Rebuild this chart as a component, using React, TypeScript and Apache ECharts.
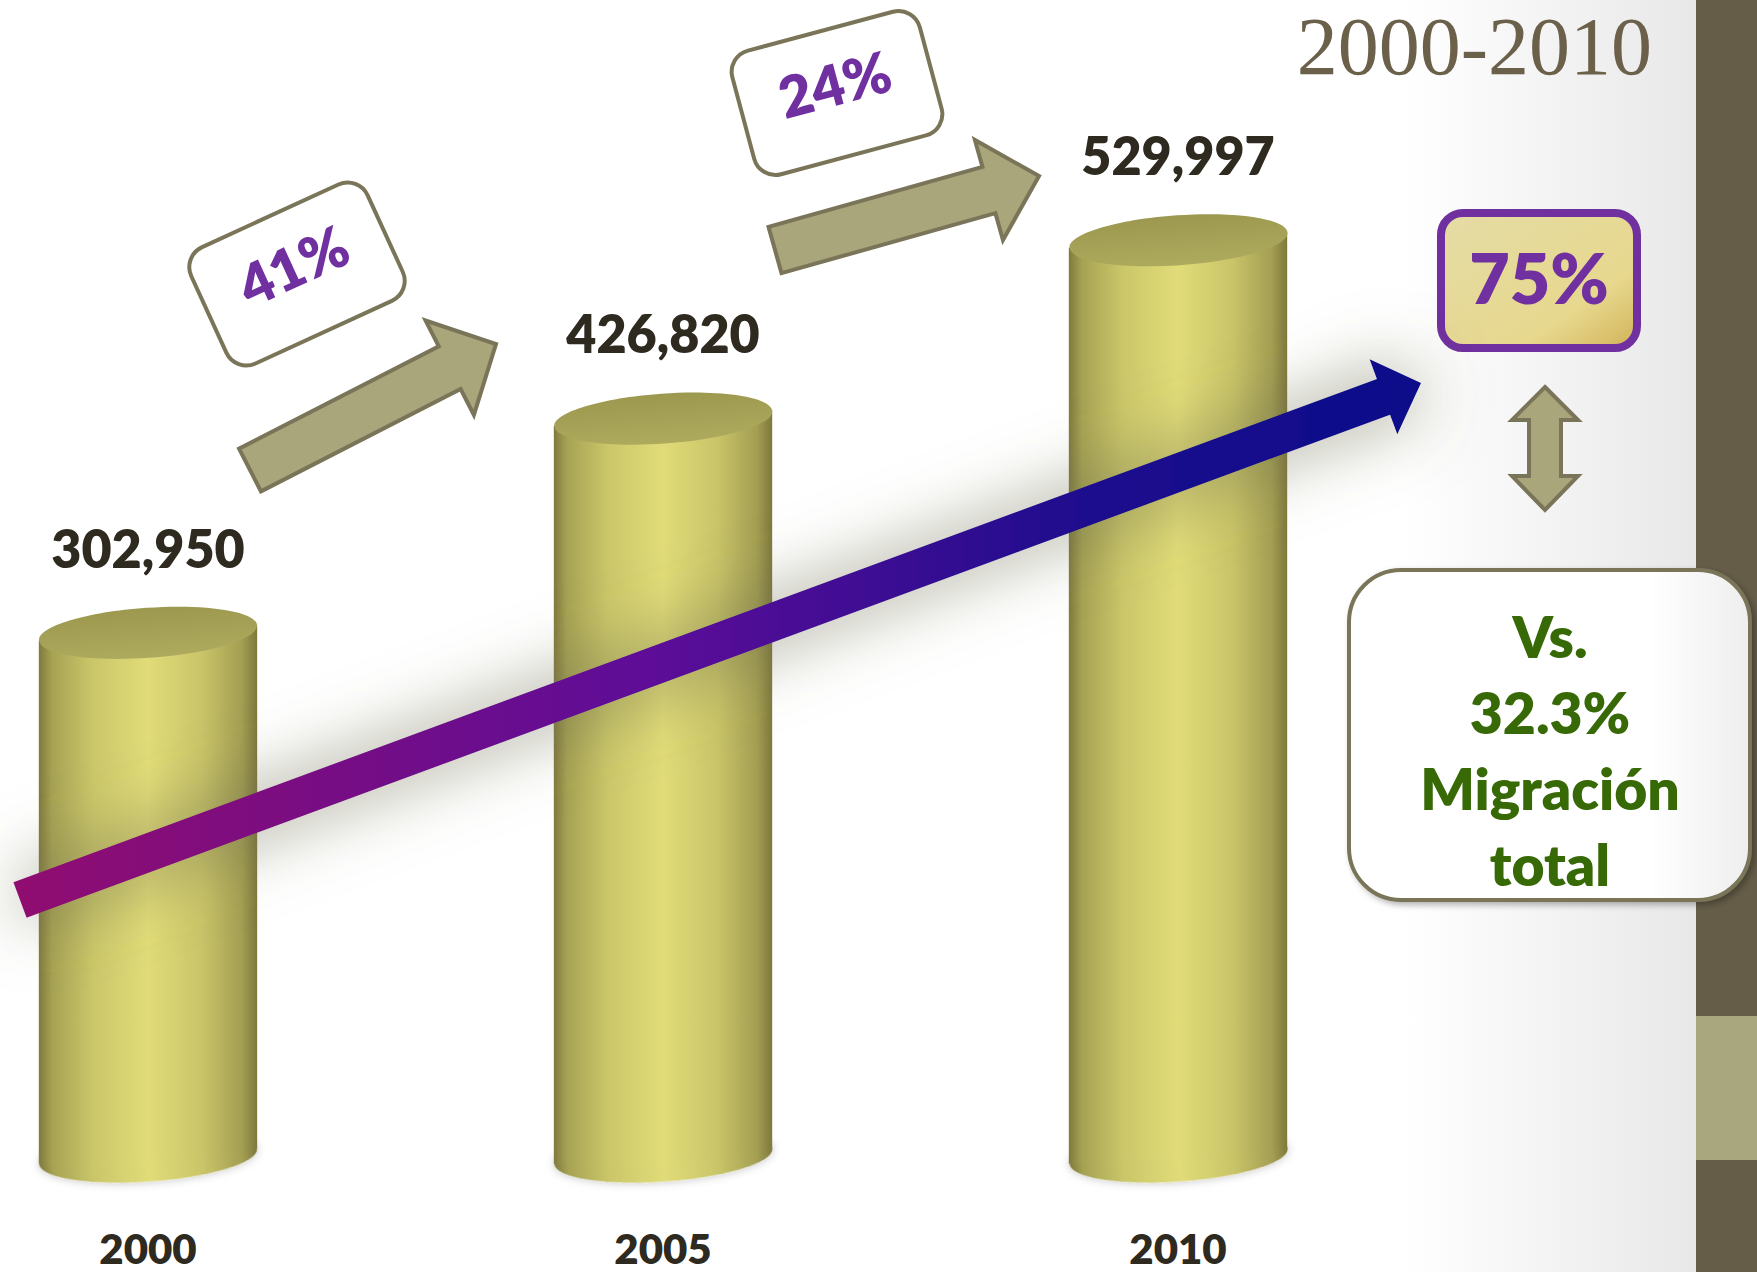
import React, { useEffect, useRef } from "react";
import * as echarts from "echarts";

const years = ["2000", "2005", "2010"];
const population = [302950, 426820, 529997];
const stepGrowth = ["41%", "24%"];
const totalGrowth = "75%";
const comparisonLines = ["Vs.", "32.3%", "Migración", "total"];
const title = "2000-2010";

type Pt = [number, number];

function blockArrow(tx: number, ty: number, hx: number, hy: number, shaftHalf: number, headHalf: number, headLen: number): Pt[] {
  const dx = hx - tx, dy = hy - ty;
  const L = Math.hypot(dx, dy);
  const ux = dx / L, uy = dy / L;
  const nx = -uy, ny = ux;
  const bx = hx - ux * headLen, by = hy - uy * headLen;
  return [
    [tx + nx * shaftHalf, ty + ny * shaftHalf],
    [bx + nx * shaftHalf, by + ny * shaftHalf],
    [bx + nx * headHalf, by + ny * headHalf],
    [hx, hy],
    [bx - nx * headHalf, by - ny * headHalf],
    [bx - nx * shaftHalf, by - ny * shaftHalf],
    [tx - nx * shaftHalf, ty - ny * shaftHalf],
  ];
}

const fmt = (v: number) => v.toLocaleString("en-US");

export default function App() {
  const ref = useRef<HTMLDivElement>(null);
  useEffect(() => {
    if (!ref.current) return;
    const chart = echarts.init(ref.current, undefined, { renderer: "svg" });
    const olive = "#a9a67c";
    const oliveStroke = "#7a7558";
    const purple = "#7030a0";
    const green = "#376a06";
    const dark = "#2e2a1f";
    const W = "800";

    const bodyGrad = () =>
      new echarts.graphic.LinearGradient(0, 0, 1, 0, [
        { offset: 0, color: "#7f7a3e" },
        { offset: 0.06, color: "#a6a253" },
        { offset: 0.25, color: "#cbc76a" },
        { offset: 0.5, color: "#e1dc78" },
        { offset: 0.75, color: "#c9c468" },
        { offset: 0.93, color: "#a39e52" },
        { offset: 1, color: "#7e783c" },
      ]);
    const topGrad = () =>
      new echarts.graphic.LinearGradient(0, 0, 0, 1, [
        { offset: 0, color: "#9c984f" },
        { offset: 1, color: "#aeaa5d" },
      ]);

    const tilt = 0.07;

    const stepBox = (cx: number, cy: number, rot: number, text: string) => ({
      type: "group",
      x: cx,
      y: cy,
      rotation: rot,
      z: 20,
      children: [
        {
          type: "rect",
          shape: { x: -97, y: -64, width: 194, height: 128, r: 22 },
          style: { fill: "#ffffff", stroke: oliveStroke, lineWidth: 4 },
        },
        {
          type: "text",
          x: 0,
          y: -10,
          style: {
            text,
            fill: purple,
            font: `${W} 57px Lato`,
            textAlign: "center",
            textVerticalAlign: "middle",
          },
        },
      ],
    });

    const option: any = {
      animation: false,
      grid: { left: 148, right: 579, top: 0, bottom: 116 },
      xAxis: {
        type: "category",
        data: years,
        boundaryGap: false,
        axisLine: { show: false },
        axisTick: { show: false },
        splitLine: { show: false },
        axisLabel: {
          margin: 92,
          verticalAlign: "middle",
          color: dark,
          fontSize: 42,
          fontWeight: W,
          fontFamily: "Lato",
        },
      },
      yAxis: {
        type: "value",
        min: 0,
        max: 669000,
        show: false,
        splitLine: { show: false },
      },
      graphic: [
        {
          type: "rect",
          z: -10,
          shape: { x: 0, y: 0, width: 1757, height: 1272 },
          style: {
            fill: new echarts.graphic.LinearGradient(0, 0, 1, 0, [
              { offset: 0, color: "#ffffff" },
              { offset: 0.8, color: "#ffffff" },
              { offset: 0.965, color: "#e8e8e8" },
              { offset: 1, color: "#e8e8e8" },
            ]),
          },
        },
        { type: "rect", z: -5, shape: { x: 1696, y: 0, width: 61, height: 1272 }, style: { fill: "#655d48" } },
        { type: "rect", z: -5, shape: { x: 1696, y: 1016, width: 61, height: 144 }, style: { fill: "#a9a77e" } },
        {
          type: "text",
          z: 20,
          x: 1652,
          y: 46,
          style: {
            text: title,
            fill: "#6b614b",
            font: "82px 'Liberation Serif'",
            textAlign: "right",
            textVerticalAlign: "middle",
          },
        },
        // small step arrows
        {
          type: "polygon",
          z: 20,
          shape: { points: blockArrow(250, 470, 496, 344, 24, 53, 52) },
          style: { fill: olive, stroke: oliveStroke, lineWidth: 4, lineJoin: "miter" },
        },
        {
          type: "polygon",
          z: 20,
          shape: { points: blockArrow(775, 250, 1039, 176, 24, 52, 52) },
          style: { fill: olive, stroke: oliveStroke, lineWidth: 4, lineJoin: "miter" },
        },
        stepBox(297, 274, 0.43, stepGrowth[0]),
        stepBox(837, 93, 0.262, stepGrowth[1]),
        // big trend arrow
        {
          type: "polygon",
          z: 30,
          shape: { points: blockArrow(20, 900, 1421, 383, 19, 40, 40) },
          style: {
            fill: new echarts.graphic.LinearGradient(0, 0, 1, 0, [
              { offset: 0, color: "#900a70" },
              { offset: 0.45, color: "#5e0a98" },
              { offset: 0.75, color: "#200a8e" },
              { offset: 1, color: "#0a0a8a" },
            ]),
            shadowBlur: 70,
            shadowColor: "rgba(110,110,80,0.7)",
          },
        },
        // 75% box
        {
          type: "rect",
          z: 20,
          shape: { x: 1441, y: 213, width: 196, height: 135, r: 22 },
          style: {
            fill: new echarts.graphic.LinearGradient(0, 0, 1, 1, [
              { offset: 0, color: "#e5dca6" },
              { offset: 0.7, color: "#e7d88e" },
              { offset: 0.9, color: "#d9bf6a" },
              { offset: 1, color: "#cfae55" },
            ]),
            stroke: purple,
            lineWidth: 8,
          },
        },
        {
          type: "text",
          z: 21,
          x: 1539,
          y: 277,
          style: {
            text: totalGrowth,
            fill: purple,
            font: `${W} 70px Lato`,
            textAlign: "center",
            textVerticalAlign: "middle",
          },
        },
        // double arrow
        {
          type: "polygon",
          z: 20,
          shape: {
            points: [
              [1545, 387],
              [1578, 420],
              [1561, 420],
              [1561, 476],
              [1578, 476],
              [1545, 510],
              [1512, 476],
              [1529, 476],
              [1529, 420],
              [1512, 420],
            ],
          },
          style: { fill: olive, stroke: oliveStroke, lineWidth: 4 },
        },
        // comparison box
        {
          type: "rect",
          z: 20,
          shape: { x: 1349, y: 570, width: 401, height: 330, r: 52 },
          style: {
            fill: new echarts.graphic.LinearGradient(0, 0, 1, 0, [
              { offset: 0, color: "#ffffff" },
              { offset: 0.75, color: "#ffffff" },
              { offset: 1, color: "#eeeeee" },
            ]),
            stroke: oliveStroke,
            lineWidth: 4,
            shadowBlur: 6,
            shadowOffsetX: 3,
            shadowOffsetY: 3,
            shadowColor: "rgba(0,0,0,0.3)",
          },
        },
        ...comparisonLines.map((t, i) => ({
          type: "text",
          z: 21,
          x: 1550,
          y: 636 + i * 76,
          style: {
            text: t,
            fill: green,
            font: `${W} 57px Lato`,
            textAlign: "center",
            textVerticalAlign: "middle",
          },
        })),
      ],
      series: [
        {
          type: "custom",
          z: 5,
          data: population.map((v, i) => [i, v]),
          encode: { x: 0, y: 1 },
          renderItem: (params: any, api: any) => {
            const idx = api.value(0);
            const val = api.value(1);
            const base = api.coord([idx, 0]);
            const top = api.coord([idx, val]);
            const cx = base[0];
            const y0 = base[1];
            const y1 = top[1];
            const w = api.size([1, 0])[0] * 0.424;
            const rx = w / 2;
            const ry = 25;
            const dy = rx * Math.sin(tilt);
            return {
              type: "group",
              children: [
                {
                  type: "ellipse",
                  shape: { cx, cy: y0, rx, ry },
                  rotation: tilt,
                  originX: cx,
                  originY: y0,
                  style: { fill: bodyGrad(), shadowBlur: 10, shadowColor: "rgba(0,0,0,0.25)" },
                },
                {
                  type: "polygon",
                  shape: {
                    points: [
                      [cx - rx, y1 + dy],
                      [cx + rx, y1 - dy],
                      [cx + rx, y0 - dy],
                      [cx - rx, y0 + dy],
                    ],
                  },
                  style: { fill: bodyGrad() },
                },
                {
                  type: "ellipse",
                  shape: { cx, cy: y1, rx, ry },
                  rotation: tilt,
                  originX: cx,
                  originY: y1,
                  style: { fill: topGrad() },
                },
                {
                  type: "text",
                  x: cx,
                  y: y1 - 85,
                  style: {
                    text: fmt(val),
                    fill: dark,
                    font: `${W} 52px Lato`,
                    textAlign: "center",
                    textVerticalAlign: "middle",
                  },
                },
              ],
            };
          },
        },
      ],
    };
    chart.setOption(option);
    return () => chart.dispose();
  }, []);
  return <div ref={ref} style={{ position: "absolute", left: 0, top: 0, width: 1757, height: 1272 }} />;
}
